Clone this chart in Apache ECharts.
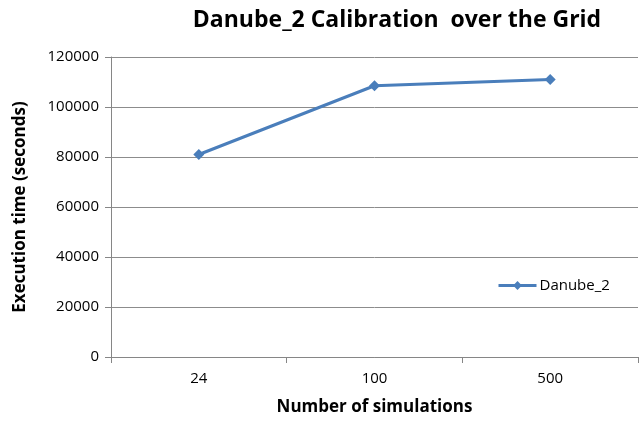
<!DOCTYPE html>
<html><head><meta charset="utf-8">
<script src="https://cdn.jsdelivr.net/npm/echarts@6/dist/echarts.min.js"></script>
<style>html,body{margin:0;padding:0;background:#fff}#c{width:641px;height:422px}</style>
</head><body><div id="c"></div>
<script>
var categories = ['24', '100', '500'];
var danube2 = [81000, 108500, 111000];
var yTicks = [0, 20000, 40000, 60000, 80000, 100000, 120000];

var chart = echarts.init(document.getElementById('c'), null, {renderer: 'canvas'});
var font = '"Open Sans", "Noto Sans", sans-serif';
chart.setOption({
  animation: false,
  textStyle: {fontFamily: font},
  title: {
    text: 'Danube_2 Calibration  over the Grid',
    left: 392, top: 4, textAlign: 'center',
    textStyle: {fontFamily: font, fontSize: 23, fontWeight: 'bold', color: '#000'}
  },
  legend: {
    left: 492, top: 273, itemWidth: 38, itemHeight: 11, itemGap: 4,
    lineStyle: {width: 3},
    textStyle: {fontFamily: font, fontSize: 15, color: '#000', padding: [0, 0, 0, -2]},
    data: ['Danube_2']
  },
  grid: {left: 111, right: 3, top: 57, bottom: 65},
  xAxis: {
    type: 'category', data: categories, boundaryGap: true,
    name: 'Number of simulations', nameLocation: 'middle', nameGap: 42,
    nameTextStyle: {fontFamily: font, fontSize: 17, fontWeight: 'bold', color: '#000'},
    axisLine: {lineStyle: {color: '#868686', width: 1}},
    axisTick: {show: true, alignWithLabel: false, length: 6, lineStyle: {color: '#868686'}},
    axisLabel: {fontFamily: font, fontSize: 15, color: '#000', margin: 14}
  },
  yAxis: {
    type: 'value', min: yTicks[0], max: yTicks[yTicks.length - 1], interval: 20000,
    name: 'Execution time (seconds)', nameLocation: 'middle', nameGap: 82,
    nameTextStyle: {fontFamily: font, fontSize: 17, fontWeight: 'bold', color: '#000'},
    axisLine: {show: true, lineStyle: {color: '#868686', width: 1}},
    axisTick: {show: true, length: 6, lineStyle: {color: '#868686'}},
    axisLabel: {fontFamily: font, fontSize: 15, color: '#000', margin: 12,
      formatter: function (v) { return String(v); }},
    splitLine: {lineStyle: {color: '#8c8c8c', width: 1}}
  },
  series: [{
    name: 'Danube_2', type: 'line', data: danube2,
    symbol: 'diamond', symbolSize: 11,
    lineStyle: {color: '#4a7ebb', width: 3},
    itemStyle: {color: '#4a7ebb'}
  }]
});
</script></body></html>
